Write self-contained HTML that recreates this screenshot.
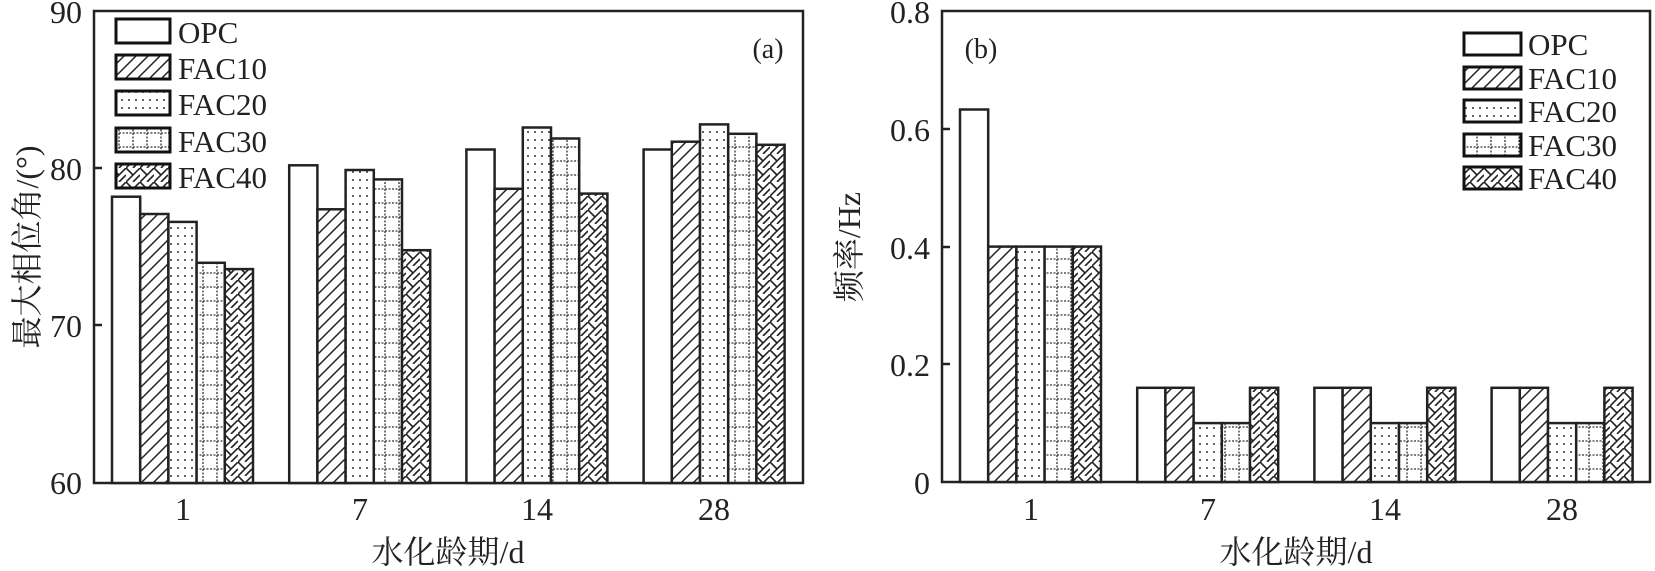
<!DOCTYPE html>
<html><head><meta charset="utf-8"><style>body{margin:0;background:#fff}svg{display:block}</style></head><body>
<svg width="1655" height="571" xmlns="http://www.w3.org/2000/svg" font-family="Liberation Serif, Noto Serif CJK SC, serif" fill="#222">
<defs>
<pattern id="p1" width="12" height="12" patternUnits="userSpaceOnUse"><rect width="12" height="12" fill="#fff"/><path d="M-3,15 L15,-3 M-3,3 L3,-3 M9,15 L15,9" stroke="#222" stroke-width="1.5"/></pattern>
<pattern id="p2" width="7" height="8" patternUnits="userSpaceOnUse"><rect width="7" height="8" fill="#fff"/><circle cx="3" cy="4" r="1" fill="#333"/></pattern>
<pattern id="p3" width="14" height="14" patternUnits="userSpaceOnUse"><rect width="14" height="14" fill="#fff"/><path d="M0,7 H14 M7,0 V14" stroke="#333" stroke-width="1.3" stroke-dasharray="2,1.5"/></pattern>
<pattern id="p4" width="14" height="14" patternUnits="userSpaceOnUse"><rect width="14" height="14" fill="#fff"/><path d="M0,14 L14,0 M0,0 L7,7 M7,14 L14,7" stroke="#222" stroke-width="1.6"/></pattern>
</defs>
<g stroke="#222" stroke-width="2.5" fill="none">
<rect x="94" y="11" width="709" height="472"/>
<rect x="942" y="11" width="708" height="471"/>
<path d="M94,168 h8 M94,325 h8 M942,129 h8 M942,247 h8 M942,364 h8"/>
</g>
<g stroke="#222" stroke-width="2.5">
<rect x="112" y="196.7" width="28.2" height="286.3" fill="#fff"/>
<rect x="140.2" y="214" width="28.2" height="269" fill="url(#p1)"/>
<rect x="168.4" y="221.9" width="28.2" height="261.1" fill="url(#p2)"/>
<rect x="196.6" y="262.8" width="28.2" height="220.2" fill="url(#p3)"/>
<rect x="224.8" y="269.1" width="28.2" height="213.9" fill="url(#p4)"/>
<rect x="289.2" y="165.3" width="28.2" height="317.7" fill="#fff"/>
<rect x="317.4" y="209.3" width="28.2" height="273.7" fill="url(#p1)"/>
<rect x="345.6" y="170" width="28.2" height="313" fill="url(#p2)"/>
<rect x="373.8" y="179.4" width="28.2" height="303.6" fill="url(#p3)"/>
<rect x="402" y="250.2" width="28.2" height="232.8" fill="url(#p4)"/>
<rect x="466.4" y="149.5" width="28.2" height="333.5" fill="#fff"/>
<rect x="494.6" y="188.8" width="28.2" height="294.2" fill="url(#p1)"/>
<rect x="522.8" y="127.5" width="28.2" height="355.5" fill="url(#p2)"/>
<rect x="551" y="138.5" width="28.2" height="344.5" fill="url(#p3)"/>
<rect x="579.2" y="193.6" width="28.2" height="289.4" fill="url(#p4)"/>
<rect x="643.6" y="149.5" width="28.2" height="333.5" fill="#fff"/>
<rect x="671.8" y="141.7" width="28.2" height="341.3" fill="url(#p1)"/>
<rect x="700" y="124.4" width="28.2" height="358.6" fill="url(#p2)"/>
<rect x="728.2" y="133.8" width="28.2" height="349.2" fill="url(#p3)"/>
<rect x="756.4" y="144.8" width="28.2" height="338.2" fill="url(#p4)"/>

<rect x="960" y="109.5" width="28.2" height="372.5" fill="#fff"/>
<rect x="988.2" y="246.6" width="28.2" height="235.4" fill="url(#p1)"/>
<rect x="1016.4" y="246.6" width="28.2" height="235.4" fill="url(#p2)"/>
<rect x="1044.6" y="246.6" width="28.2" height="235.4" fill="url(#p3)"/>
<rect x="1072.8" y="246.6" width="28.2" height="235.4" fill="url(#p4)"/>
<rect x="1137.2" y="387.8" width="28.2" height="94.2" fill="#fff"/>
<rect x="1165.4" y="387.8" width="28.2" height="94.2" fill="url(#p1)"/>
<rect x="1193.6" y="423.1" width="28.2" height="58.9" fill="url(#p2)"/>
<rect x="1221.8" y="423.1" width="28.2" height="58.9" fill="url(#p3)"/>
<rect x="1250" y="387.8" width="28.2" height="94.2" fill="url(#p4)"/>
<rect x="1314.4" y="387.8" width="28.2" height="94.2" fill="#fff"/>
<rect x="1342.6" y="387.8" width="28.2" height="94.2" fill="url(#p1)"/>
<rect x="1370.8" y="423.1" width="28.2" height="58.9" fill="url(#p2)"/>
<rect x="1399" y="423.1" width="28.2" height="58.9" fill="url(#p3)"/>
<rect x="1427.2" y="387.8" width="28.2" height="94.2" fill="url(#p4)"/>
<rect x="1491.6" y="387.8" width="28.2" height="94.2" fill="#fff"/>
<rect x="1519.8" y="387.8" width="28.2" height="94.2" fill="url(#p1)"/>
<rect x="1548" y="423.1" width="28.2" height="58.9" fill="url(#p2)"/>
<rect x="1576.2" y="423.1" width="28.2" height="58.9" fill="url(#p3)"/>
<rect x="1604.4" y="387.8" width="28.2" height="94.2" fill="url(#p4)"/>
</g>
<g font-size="32" text-anchor="end">
<text x="82" y="23">90</text><text x="82" y="180">80</text><text x="82" y="337">70</text><text x="82" y="494">60</text>
<text x="930" y="23">0.8</text><text x="930" y="141">0.6</text><text x="930" y="259">0.4</text><text x="930" y="376">0.2</text><text x="930" y="494">0</text>
</g>
<g font-size="32" text-anchor="middle">
<text x="183" y="520">1</text><text x="360" y="520">7</text><text x="537" y="520">14</text><text x="714" y="520">28</text>
<text x="1031" y="520">1</text><text x="1208" y="520">7</text><text x="1385" y="520">14</text><text x="1562" y="520">28</text>
<text x="448" y="563">水化龄期/d</text>
<text x="1296" y="563">水化龄期/d</text>
<text x="768" y="58" font-size="28">(a)</text>
<text x="981" y="58" font-size="28">(b)</text>
</g>
<text transform="translate(38,247) rotate(-90)" font-size="32" text-anchor="middle">最大相位角/(°)</text>
<text transform="translate(860,247) rotate(-90)" font-size="32" text-anchor="middle">频率/Hz</text>
<g stroke="#111" stroke-width="3">
<rect x="116" y="19" width="54" height="24" fill="#fff"/>
<rect x="116" y="55" width="54" height="24" fill="url(#p1)"/>
<rect x="116" y="91" width="54" height="24" fill="url(#p2)"/>
<rect x="116" y="128" width="54" height="24" fill="url(#p3)"/>
<rect x="116" y="164" width="54" height="24" fill="url(#p4)"/>
<rect x="1464" y="33" width="57" height="22" fill="#fff"/>
<rect x="1464" y="67" width="57" height="22" fill="url(#p1)"/>
<rect x="1464" y="100" width="57" height="22" fill="url(#p2)"/>
<rect x="1464" y="134" width="57" height="22" fill="url(#p3)"/>
<rect x="1464" y="167" width="57" height="22" fill="url(#p4)"/>
</g>
<g font-size="31">
<text x="178" y="43">OPC</text><text x="178" y="79">FAC10</text><text x="178" y="115">FAC20</text><text x="178" y="152">FAC30</text><text x="178" y="188">FAC40</text>
<text x="1528" y="55">OPC</text><text x="1528" y="89">FAC10</text><text x="1528" y="122">FAC20</text><text x="1528" y="156">FAC30</text><text x="1528" y="189">FAC40</text>
</g>
</svg>
</body></html>
